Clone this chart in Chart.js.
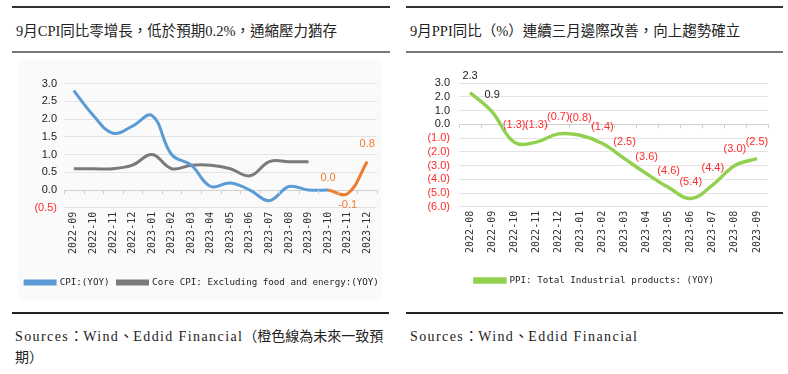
<!DOCTYPE html>
<html>
<head>
<meta charset="utf-8">
<script src="https://cdn.jsdelivr.net/npm/chart.js@4/dist/chart.umd.min.js"></script>
<style>
  html,body{margin:0;padding:0;background:#fff;width:788px;height:374px;overflow:hidden;}
  .abs{position:absolute;}
  .rule{position:absolute;height:0;}
  .title{position:absolute;font-family:"Liberation Serif","Noto Sans CJK TC",serif;font-size:14.5px;color:#222;white-space:nowrap;line-height:16px;}
  .src{position:absolute;font-family:"Liberation Serif","Noto Sans CJK TC",serif;font-size:14px;color:#222;white-space:nowrap;line-height:21px;}
  .lat{letter-spacing:1.4px;}
  #bgL{position:absolute;left:18px;top:60px;width:364px;height:240px;background:#fafafa;}
</style>
</head>
<body>
<div class="rule" style="left:12px;top:6px;width:378px;border-top:2px solid #333;"></div>
<div class="rule" style="left:12px;top:51px;width:378px;border-top:2px solid #777;"></div>
<div class="title" style="left:16px;top:23px;">9月CPI同比零增長，低於預期0.2%，通縮壓力猶存</div>

<div class="rule" style="left:406px;top:6px;width:377px;border-top:2px solid #333;"></div>
<div class="rule" style="left:406px;top:51px;width:377px;border-top:2px solid #777;"></div>
<div class="title" style="left:410px;top:23px;">9月PPI同比（%）連續三月邊際改善，向上趨勢確立</div>

<div id="bgL"></div>
<canvas id="cpiChart" class="abs" style="left:12px;top:56px;" width="380" height="241"></canvas>
<canvas id="ppiChart" class="abs" style="left:398px;top:56px;" width="388" height="239"></canvas>

<div class="rule" style="left:12px;top:312px;width:377px;border-top:2px solid #222;"></div>
<div class="rule" style="left:406px;top:312px;width:377px;border-top:2px solid #222;"></div>
<div class="src" style="left:15px;top:326px;"><span class="lat">Sources</span>：<span class="lat">Wind</span>、<span class="lat">Eddid Financial</span>（橙色線為未來一致預<br>期）</div>
<div class="src" style="left:410px;top:326px;"><span class="lat">Sources</span>：<span class="lat">Wind</span>、<span class="lat">Eddid Financial</span></div>

<script>
// ---------- DATA ----------
const cpiMonths = ['2022-09','2022-10','2022-11','2022-12','2023-01','2023-02','2023-03','2023-04','2023-05','2023-06','2023-07','2023-08','2023-09','2023-10','2023-11','2023-12'];
const cpiYoy = [2.8,2.1,1.6,1.8,2.1,1.0,0.7,0.1,0.2,0.0,-0.3,0.1,0.0,0.0,null,null];
const coreCpiYoy = [0.6,0.6,0.6,0.7,1.0,0.6,0.7,0.7,0.6,0.4,0.8,0.8,0.8,null,null,null];
const cpiForecast = [null,null,null,null,null,null,null,null,null,null,null,null,null,0.0,-0.1,0.8];
const cpiTickMin = -0.5, cpiTickMax = 3.0, cpiTickStep = 0.5;

const ppiMonths = ['2022-08','2022-09','2022-10','2022-11','2022-12','2023-01','2023-02','2023-03','2023-04','2023-05','2023-06','2023-07','2023-08','2023-09'];
const ppiYoy = [2.3,0.9,-1.3,-1.3,-0.7,-0.8,-1.4,-2.5,-3.6,-4.6,-5.4,-4.4,-3.0,-2.5];
const ppiTickMin = -6, ppiTickMax = 3, ppiTickStep = 1;

// ---------- STYLE ----------
Chart.defaults.font.family = "'Liberation Sans', 'Noto Sans', sans-serif";
Chart.defaults.color = '#222';
const RED = '#ff2a2a';
const monoFont = {family:"'DejaVu Sans Mono', monospace", size:9.2};

const fmtAcct = v => v < 0 ? '(' + Math.abs(v).toFixed(1) + ')' : v.toFixed(1);

// zero line tick marks at category boundaries
const zeroTicks = {
  id:'zeroTicks',
  afterDraw(chart){
    const xs = chart.scales.x, ys = chart.scales.y, ctx = chart.ctx;
    const y0 = ys.getPixelForValue(0);
    const n = xs.ticks.length;
    const step = (xs.right - xs.left) / n;
    ctx.save();
    ctx.strokeStyle = '#cfcfcf';
    ctx.lineWidth = 1;
    ctx.beginPath();
    for (let i = 0; i <= n; i++) {
      const x = Math.round(xs.left + i * step) + 0.5;
      ctx.moveTo(x, y0); ctx.lineTo(x, y0 + 4);
    }
    ctx.stroke();
    ctx.restore();
  }
};

// point value labels
const valueLabels = {
  id:'valueLabels',
  afterDatasetsDraw(chart, args, opts){
    const ctx = chart.ctx;
    (opts.items || []).forEach(item => {
      const meta = chart.getDatasetMeta(item.dataset);
      const data = chart.data.datasets[item.dataset].data;
      ctx.save();
      ctx.font = "11px 'Liberation Sans', sans-serif";
      ctx.textAlign = 'center';
      ctx.textBaseline = 'middle';
      meta.data.forEach((pt, i) => {
        const v = data[i];
        if (v === null || v === undefined) return;
        const off = item.offsets ? item.offsets[i] : item.offset;
        if (off === null || off === undefined) return;
        ctx.fillStyle = item.color ? item.color : (v < 0 ? RED : '#222');
        ctx.fillText(item.format(v), pt.x, pt.y + off);
      });
      ctx.restore();
    });
  }
};

function gridColor(ctx){ return ctx.tick && ctx.tick.value === 0 ? '#cfcfcf' : '#e4e4e4'; }

// invisible right-hand spacer axis (reserves the right margin while the legend keeps full width)
function spacer(w){
  return {type:'linear', position:'right', display:true, grid:{display:false, drawTicks:false},
    border:{display:false}, ticks:{display:false}, afterFit(s){ s.width = w; }};
}

// ---------- CPI CHART ----------
new Chart(document.getElementById('cpiChart'), {
  type:'line',
  data:{
    labels:cpiMonths,
    datasets:[
      {label:'CPI:(YOY)', data:cpiYoy, borderColor:'#5b9bd5', backgroundColor:'#5b9bd5', borderWidth:3, pointRadius:0, tension:0.4},
      {label:'Core CPI: Excluding food and energy:(YOY)', data:coreCpiYoy, borderColor:'#7a7a7a', backgroundColor:'#7a7a7a', borderWidth:3, pointRadius:0, tension:0.4},
      {label:'forecast', data:cpiForecast, borderColor:'#ed7d31', backgroundColor:'#ed7d31', borderWidth:3, pointRadius:0, tension:0.4}
    ]
  },
  options:{
    responsive:false, animation:false, devicePixelRatio:1,
    layout:{padding:{top:27.5, right:0, left:0, bottom:0}},
    plugins:{
      legend:{position:'bottom', labels:{boxWidth:30, boxHeight:3, padding:8, font:monoFont, color:'#222',
        filter:item => item.text !== 'forecast'}},
      tooltip:{enabled:false},
      valueLabels:{items:[{dataset:2, color:'#ed7d31', format:v => v.toFixed(1),
        offsets:[null,null,null,null,null,null,null,null,null,null,null,null,null,-12,11,-18]}]}
    },
    scales:{
      x:{offset:true, grid:{display:false, drawTicks:false}, border:{display:false},
        ticks:{minRotation:90, maxRotation:90, padding:4, autoSkip:false, font:{family:"'DejaVu Sans Mono', monospace", size:10}, color:'#333'},
        afterFit(s){ s.height = 62; }},
      y:{min:cpiTickMin, max:cpiTickMax, grid:{color:gridColor, drawTicks:false}, border:{display:false},
        ticks:{stepSize:cpiTickStep, autoSkip:false, padding:7, font:{size:11},
          color:c => c.tick.value < 0 ? RED : '#222',
          callback:v => fmtAcct(v)},
        afterFit(s){ s.width = 52; }},
      yRight: spacer(15)
    }
  },
  plugins:[zeroTicks, valueLabels]
});

// ---------- PPI CHART ----------
new Chart(document.getElementById('ppiChart'), {
  type:'line',
  data:{
    labels:ppiMonths,
    datasets:[
      {label:'PPI: Total Industrial products: (YOY)', data:ppiYoy, borderColor:'#92d050', backgroundColor:'#92d050', borderWidth:3.5, pointRadius:0, tension:0.4}
    ]
  },
  options:{
    responsive:false, animation:false, devicePixelRatio:1,
    layout:{padding:{top:27, right:0, left:5, bottom:0}},
    plugins:{
      legend:{position:'bottom', labels:{boxWidth:30, boxHeight:3, padding:6, font:monoFont, color:'#222'}},
      tooltip:{enabled:false},
      valueLabels:{items:[{dataset:0, offset:-17, format:fmtAcct}]}
    },
    scales:{
      x:{offset:true, grid:{display:false, drawTicks:false}, border:{display:false},
        ticks:{minRotation:90, maxRotation:90, padding:4, autoSkip:false, font:{family:"'DejaVu Sans Mono', monospace", size:10}, color:'#333'},
        afterFit(s){ s.height = 63; }},
      y:{min:ppiTickMin, max:ppiTickMax, grid:{color:gridColor, drawTicks:false}, border:{display:false},
        ticks:{stepSize:ppiTickStep, autoSkip:false, padding:9, font:{size:11},
          color:c => c.tick.value < 0 ? RED : '#222',
          callback:v => fmtAcct(v)},
        afterFit(s){ s.width = 56; }},
      yRight: spacer(18)
    }
  },
  plugins:[zeroTicks, valueLabels]
});
</script>
</body>
</html>
